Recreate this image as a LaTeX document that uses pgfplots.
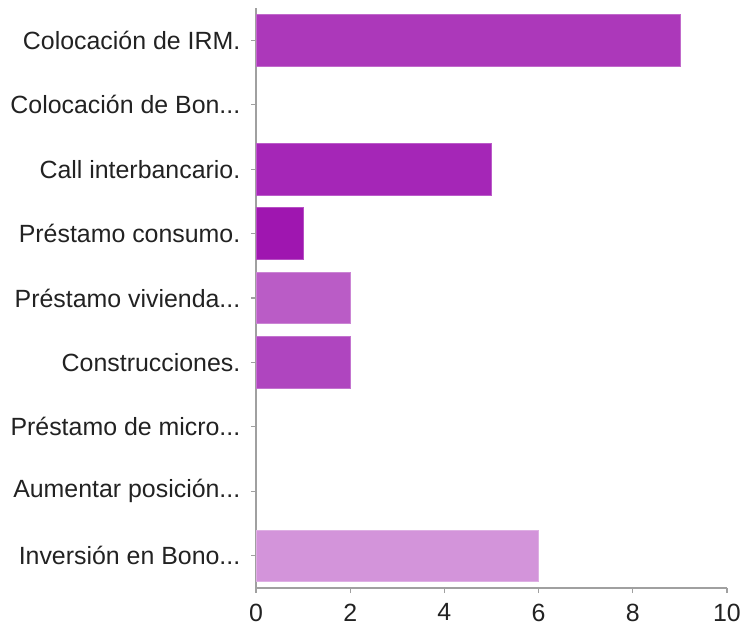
\documentclass[border=0pt]{standalone}
\usepackage{fontspec}
\setmainfont{Liberation Sans}
\usepackage{pgfplots}
\pgfplotsset{compat=1.18}

\definecolor{cIRM}{HTML}{AC38BA}
\definecolor{cCall}{HTML}{A526B7}
\definecolor{cCons}{HTML}{9F16B0}
\definecolor{cViv}{HTML}{BA5CC6}
\definecolor{cConst}{HTML}{AF45BF}
\definecolor{cInv}{HTML}{D394DA}
\definecolor{axisgray}{HTML}{A0A0A0}
\definecolor{txt}{HTML}{222222}
\newcommand{\td}{...}

\begin{document}
\fontsize{12.5}{14}\selectfont
\begin{tikzpicture}
\begin{axis}[
    at={(0,0)}, anchor=south west,
    scale only axis,
    width=235.5bp, height=290bp,
    xbar, bar shift=0pt, bar width=0.8,
    y dir=reverse,
    xmin=0, xmax=10,
    ymin=-0.5, ymax=8.5,
    axis lines*=left,
    axis line style={axisgray, line width=0.6pt},
    tick style={axisgray, line width=0.6pt},
    major tick length=2.5bp,
    tick align=outside,
    xtick={0,2,4,6,8,10},
    ytick={0,1,2,3,4,5,6,7,8},
    yticklabels={{Colocación de IRM.}, {Colocación de Bon\td}, {Call interbancario.},
                 {Préstamo consumo.}, {Préstamo vivienda\td}, {Construcciones.},
                 {Préstamo de micro\td}, {Aumentar posición\td}, {Inversión en Bono\td}},
    ticklabel style={font=\fontsize{12.5}{14}\selectfont, text=txt},
    yticklabel style={xshift=-1bp},
    xticklabel style={yshift=-1bp},
    /pgf/number format/assume math mode=true,
    clip=false,
]
\addplot[fill=cIRM, draw=cIRM!75!white, line width=0.3pt] coordinates {(9,0)};
\addplot[draw=none, fill=none] coordinates {(0,1)};
\addplot[fill=cCall, draw=cCall!75!white, line width=0.3pt] coordinates {(5,2)};
\addplot[fill=cCons, draw=cCons!75!white, line width=0.3pt] coordinates {(1,3)};
\addplot[fill=cViv, draw=cViv!75!white, line width=0.3pt] coordinates {(2,4)};
\addplot[fill=cConst, draw=cConst!75!white, line width=0.3pt] coordinates {(2,5)};
\addplot[draw=none, fill=none] coordinates {(0,6)};
\addplot[draw=none, fill=none] coordinates {(0,7)};
\addplot[fill=cInv, draw=cInv!75!white, line width=0.3pt] coordinates {(6,8)};
\end{axis}
\pgfresetboundingbox
\useasboundingbox (-128bp,-19bp) rectangle (244.5bp,294bp);
\end{tikzpicture}
\end{document}
